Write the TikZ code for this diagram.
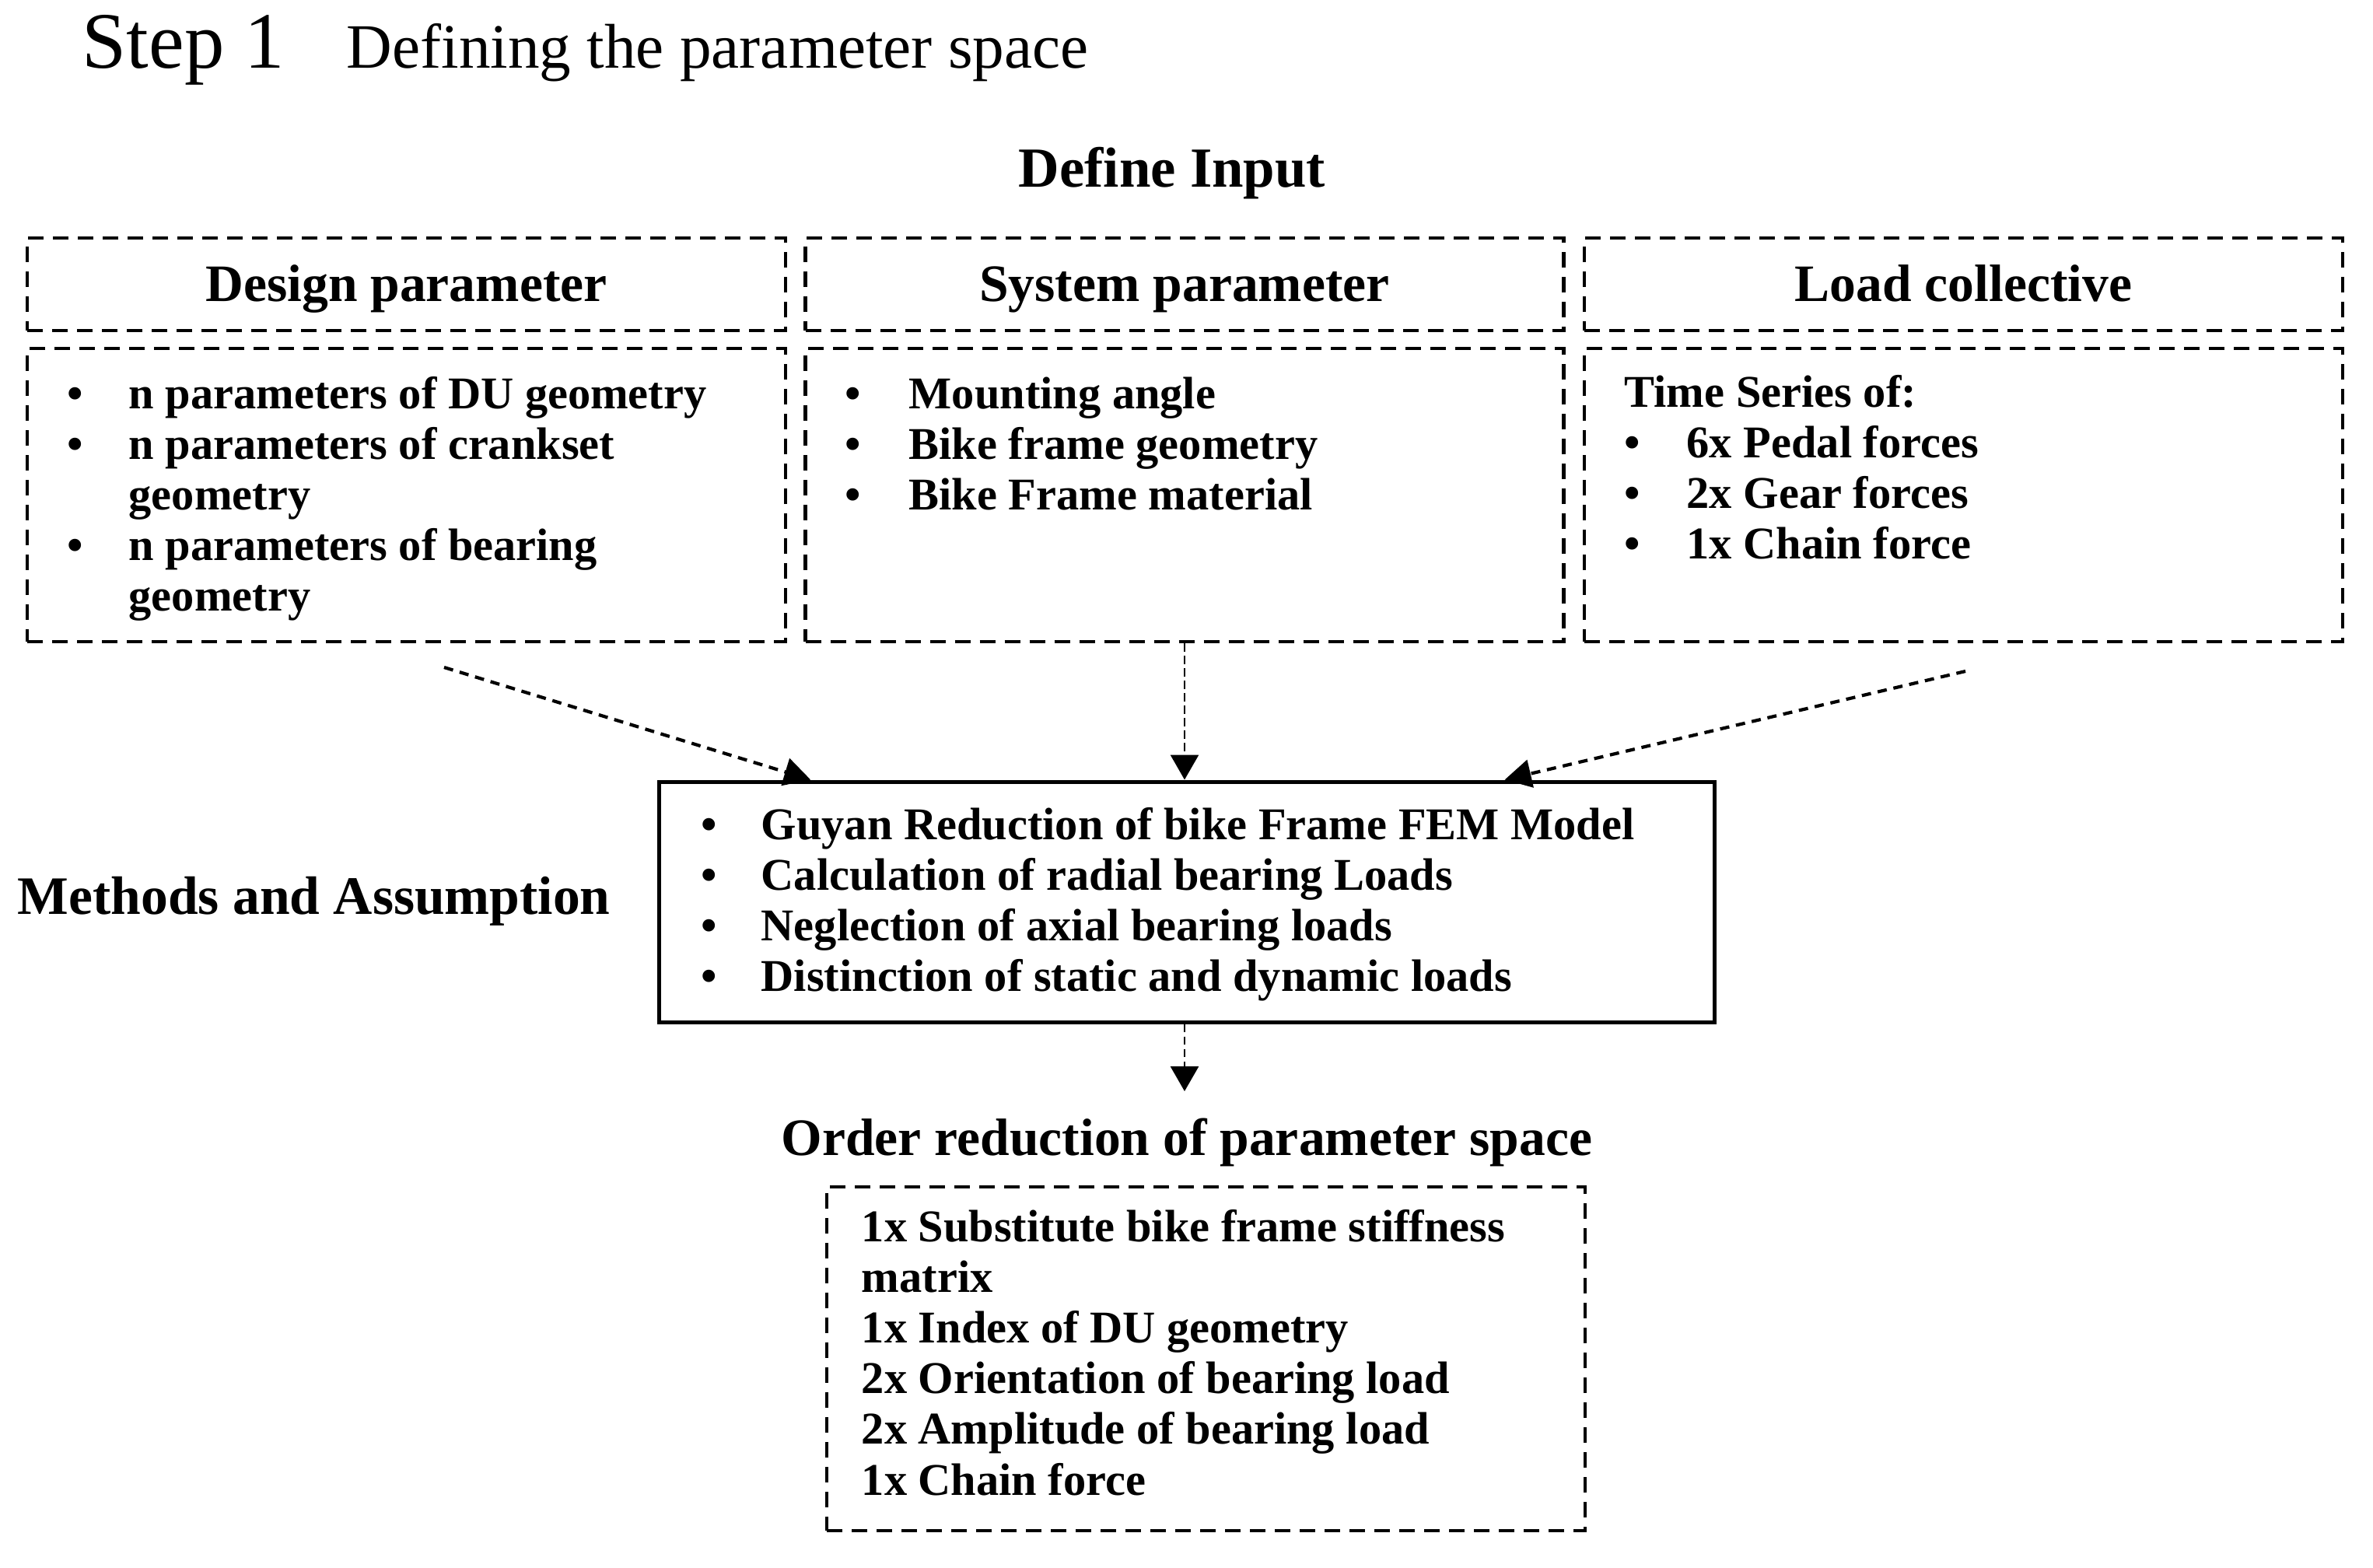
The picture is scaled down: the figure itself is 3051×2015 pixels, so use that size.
\documentclass[tikz,border=0pt]{standalone}
\usepackage{fontspec}
\setmainfont{Liberation Serif}
\usetikzlibrary{arrows.meta}

\begin{document}
\begin{tikzpicture}[x=0.25pt,y=0.25pt,yscale=-1,xscale=1,
  headbox/.style={draw,line width=1.2pt,dash pattern=on 5pt off 3pt,minimum width=243.75pt,minimum height=29.75pt,inner sep=0pt,text height=14.5pt,text depth=3.75pt,font=\fontsize{16.9}{20}\selectfont\bfseries},
  bodybox/.style={draw,line width=1.2pt,dash pattern=on 5pt off 3pt,minimum width=243.75pt,minimum height=94.25pt,inner sep=0pt},
  listtext/.style={anchor=base west,inner sep=0pt,font=\fontsize{14.6}{16.3}\selectfont\bfseries},
  heading/.style={inner sep=0pt,font=\fontsize{16.9}{20}\selectfont\bfseries},
  feedarrow/.style={line width=1.05pt,dash pattern=on 3pt off 2.2pt,-{Triangle[length=8.5pt,width=9pt]}},
  droparrow/.style={line width=0.7pt,dash pattern=on 2.6pt off 1.4pt,-{Triangle[length=8pt,width=9pt]}}]
\useasboundingbox (0,0) rectangle (3051,2015);

%Text: title
\node (step) [anchor=base west,inner sep=0pt,font=\fontsize{25.7}{30}\selectfont] at (105,87) {Step 1};
\node (steptitle) [anchor=base west,inner sep=0pt,font=\fontsize{20.3}{24}\selectfont] at (445,87) {Defining the parameter space};
%Text: input heading
\node (input) [heading,anchor=base,font=\fontsize{18.2}{21}\selectfont\bfseries] at (1507,240) {Define Input};

%Shape: Rectangle (headers)
\node (design) [headbox] at (522.5,365.5) {Design parameter};
\node (system) [headbox] at (1523,365.5) {System parameter};
\node (load) [headbox] at (2524.5,365.5) {Load collective};
%Shape: Rectangle (bodies)
\node (designbody) [bodybox] at (522.5,636.5) {};
\node (systembody) [bodybox] at (1523,636.5) {};
\node (loadbody) [bodybox] at (2524.5,636.5) {};

%Text: lists
\node (designlist) [listtext] at (86,525) {\begin{tabular}[t]{@{}p{19.75pt}@{}l@{}}
\textbullet & n parameters of DU geometry\\
\textbullet & n parameters of crankset\\
 & geometry\\
\textbullet & n parameters of bearing\\
 & geometry
\end{tabular}};
\node (systemlist) [listtext] at (1086,525) {\begin{tabular}[t]{@{}p{20.5pt}@{}l@{}}
\textbullet & Mounting angle\\
\textbullet & Bike frame geometry\\
\textbullet & Bike Frame material
\end{tabular}};
\node (loadlist) [listtext] at (2088,523) {\begin{tabular}[t]{@{}p{20pt}@{}l@{}}
\multicolumn{2}{@{}l@{}}{Time Series of:}\\
\textbullet & 6x Pedal forces\\
\textbullet & 2x Gear forces\\
\textbullet & 1x Chain force
\end{tabular}};

%Shape: Rectangle (methods)
\node (methods) [draw,line width=1.25pt,minimum width=339.25pt,minimum height=77.25pt,inner sep=0pt] at (1525.5,1159.5) {};
\node (methodslist) [listtext] at (901,1079) {\begin{tabular}[t]{@{}p{19.25pt}@{}l@{}}
\textbullet & Guyan Reduction of bike Frame FEM Model\\
\textbullet & Calculation of radial bearing Loads\\
\textbullet & Neglection of axial bearing loads\\
\textbullet & Distinction of static and dynamic loads
\end{tabular}};
\node (methodslabel) [heading,anchor=base west,font=\fontsize{17.4}{20}\selectfont\bfseries] at (22,1175) {Methods and Assumption};

%Text: output heading
\node (ordertitle) [heading,anchor=base] at (1526,1485) {Order reduction of parameter space};
%Shape: Rectangle (output)
\node (order) [draw,line width=1.2pt,dash pattern=on 5pt off 3pt,minimum width=243.75pt,minimum height=110.5pt,inner sep=0pt] at (1550.5,1747) {};
\node (orderlist) [listtext] at (1107,1596) {\begin{tabular}[t]{@{}l@{}}
1x Substitute bike frame stiffness\\
matrix\\
1x Index of DU geometry\\
2x Orientation of bearing load\\
2x Amplitude of bearing load\\
1x Chain force
\end{tabular}};

%Straight Lines (arrows)
\coordinate (designfoot) at (571,858);
\coordinate (loadfoot) at (2527,863);
\coordinate (ordertip) at (1523,1403);
\draw [feedarrow] (designfoot) -- (methods.162);
\draw [droparrow] (systembody.south) -- (systembody.south |- methods.north);
\draw [feedarrow] (loadfoot) -- (methods.21);
\draw [droparrow] (methods.south -| ordertip) -- (ordertip);

\end{tikzpicture}
\end{document}
